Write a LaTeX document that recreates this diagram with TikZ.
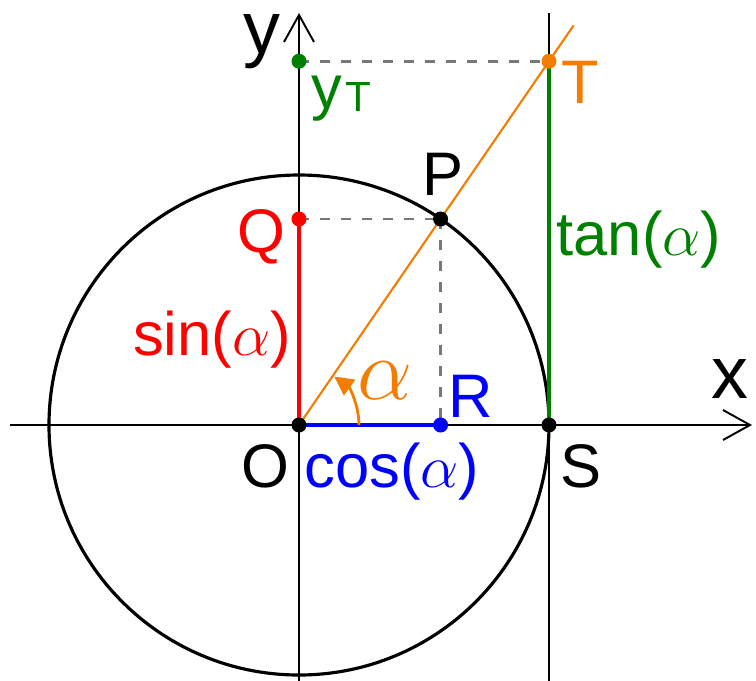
\documentclass[tikz,border=0pt]{standalone}
\usepackage{fontspec}
\setmainfont{Liberation Sans}
\usetikzlibrary{arrows.meta}
\definecolor{cOr}{RGB}{242,125,0}
\definecolor{cGr}{RGB}{0,128,0}
\definecolor{cRd}{RGB}{255,0,0}
\definecolor{cBl}{RGB}{0,0,255}
\definecolor{cDash}{RGB}{120,120,120}
\begin{document}
\begin{tikzpicture}[
  lbl/.style={inner sep=0pt, anchor=base, font=\fontsize{17.5pt}{20pt}\selectfont},
  axlbl/.style={inner sep=0pt, anchor=base, font=\fontsize{21pt}{24pt}\selectfont},
  dot/.style={circle, fill, inner sep=0pt, minimum size=0.15cm},
  axisline/.style={line width=0.55pt, -{Straight Barb[length=0.27cm, width=0.3cm, line width=0.55pt]}},
  guide/.style={cDash, line width=0.8pt, dash pattern=on 0.1cm off 0.11cm},
  thickseg/.style={line width=1.15pt}
]
\useasboundingbox (-2.99,-2.55) rectangle (4.57,4.25);
% points
\coordinate (O) at (0,0);
\coordinate (P) at (55.5:2.5);
\coordinate (Q) at (0,{2.5*sin(55.5)});
\coordinate (R) at ({2.5*cos(55.5)},0);
\coordinate (S) at (2.5,0);
\coordinate (T) at (2.5,{2.5*tan(55.5)});
\coordinate (YT) at (0,{2.5*tan(55.5)});
\coordinate (xl) at (-2.89,0);
\coordinate (xr) at (4.53,0);
\coordinate (yb) at (0,-2.56);
\coordinate (yt) at (0,4.12);
\coordinate (tb) at (2.5,-2.56);
\coordinate (tt) at (2.5,4.12);
\coordinate (oe) at (55.5:4.85);
% circle and axes
\draw[line width=0.9pt] (O) circle (2.5);
\draw[axisline] (xl) -- (xr);
\draw[axisline] (yb) -- (yt);
\draw[line width=0.55pt] (tb) -- (tt);
% guides
\draw[guide] (YT) -- (T);
\draw[guide] (Q) -- (P);
\draw[guide] (P) -- (R);
% orange ray
\draw[cOr, line width=0.6pt] (O) -- (oe);
% coloured segments
\draw[cGr, thickseg] (T) -- (S);
\draw[cRd, thickseg] (O) -- (Q);
\draw[cBl, thickseg] (O) -- (R);
% angle arc
\draw[cOr, line width=0.8pt, -{Triangle[length=0.19cm,width=0.19cm]}] (0.6,0) arc (0:54:0.6);
% dots
\node[dot, black] (Od) at (O) {};
\node[dot, black] (Pd) at (P) {};
\node[dot, black] (Sd) at (S) {};
\node[dot, cRd] (Qd) at (Q) {};
\node[dot, cBl] (Rd) at (R) {};
\node[dot, cOr] (Td) at (T) {};
\node[dot, cGr] (YTd) at (YT) {};
% labels
\node[axlbl] (ylab) at (-0.37,3.72) {y};
\node[axlbl] (xlab) at (4.31,0.27) {x};
\node[lbl, cGr, anchor=base west] (ytlab) at (0.12,3.17) {y\kern1pt\raisebox{-1pt}{\fontsize{12pt}{14pt}\selectfont T}};
\node[lbl, cOr] (Tlab) at (2.81,3.22) {T};
\node[lbl] (Plab) at (1.44,2.30) {P};
\node[lbl, cRd] (Qlab) at (-0.38,1.73) {Q};
\node[lbl, cRd] (sinlab) at (-0.87,0.70) {sin($\alpha$)};
\node[lbl, cOr, font=\fontsize{23pt}{26pt}\selectfont] (alab) at (0.86,0.26) {$\alpha$};
\node[lbl, cBl] (Rlab) at (1.72,0.08) {R};
\node[lbl] (Olab) at (-0.34,-0.62) {O};
\node[lbl, cBl] (coslab) at (0.93,-0.62) {cos($\alpha$)};
\node[lbl] (Slab) at (2.82,-0.62) {S};
\node[lbl, cGr] (tanlab) at (3.40,1.70) {tan($\alpha$)};
\end{tikzpicture}
\end{document}
